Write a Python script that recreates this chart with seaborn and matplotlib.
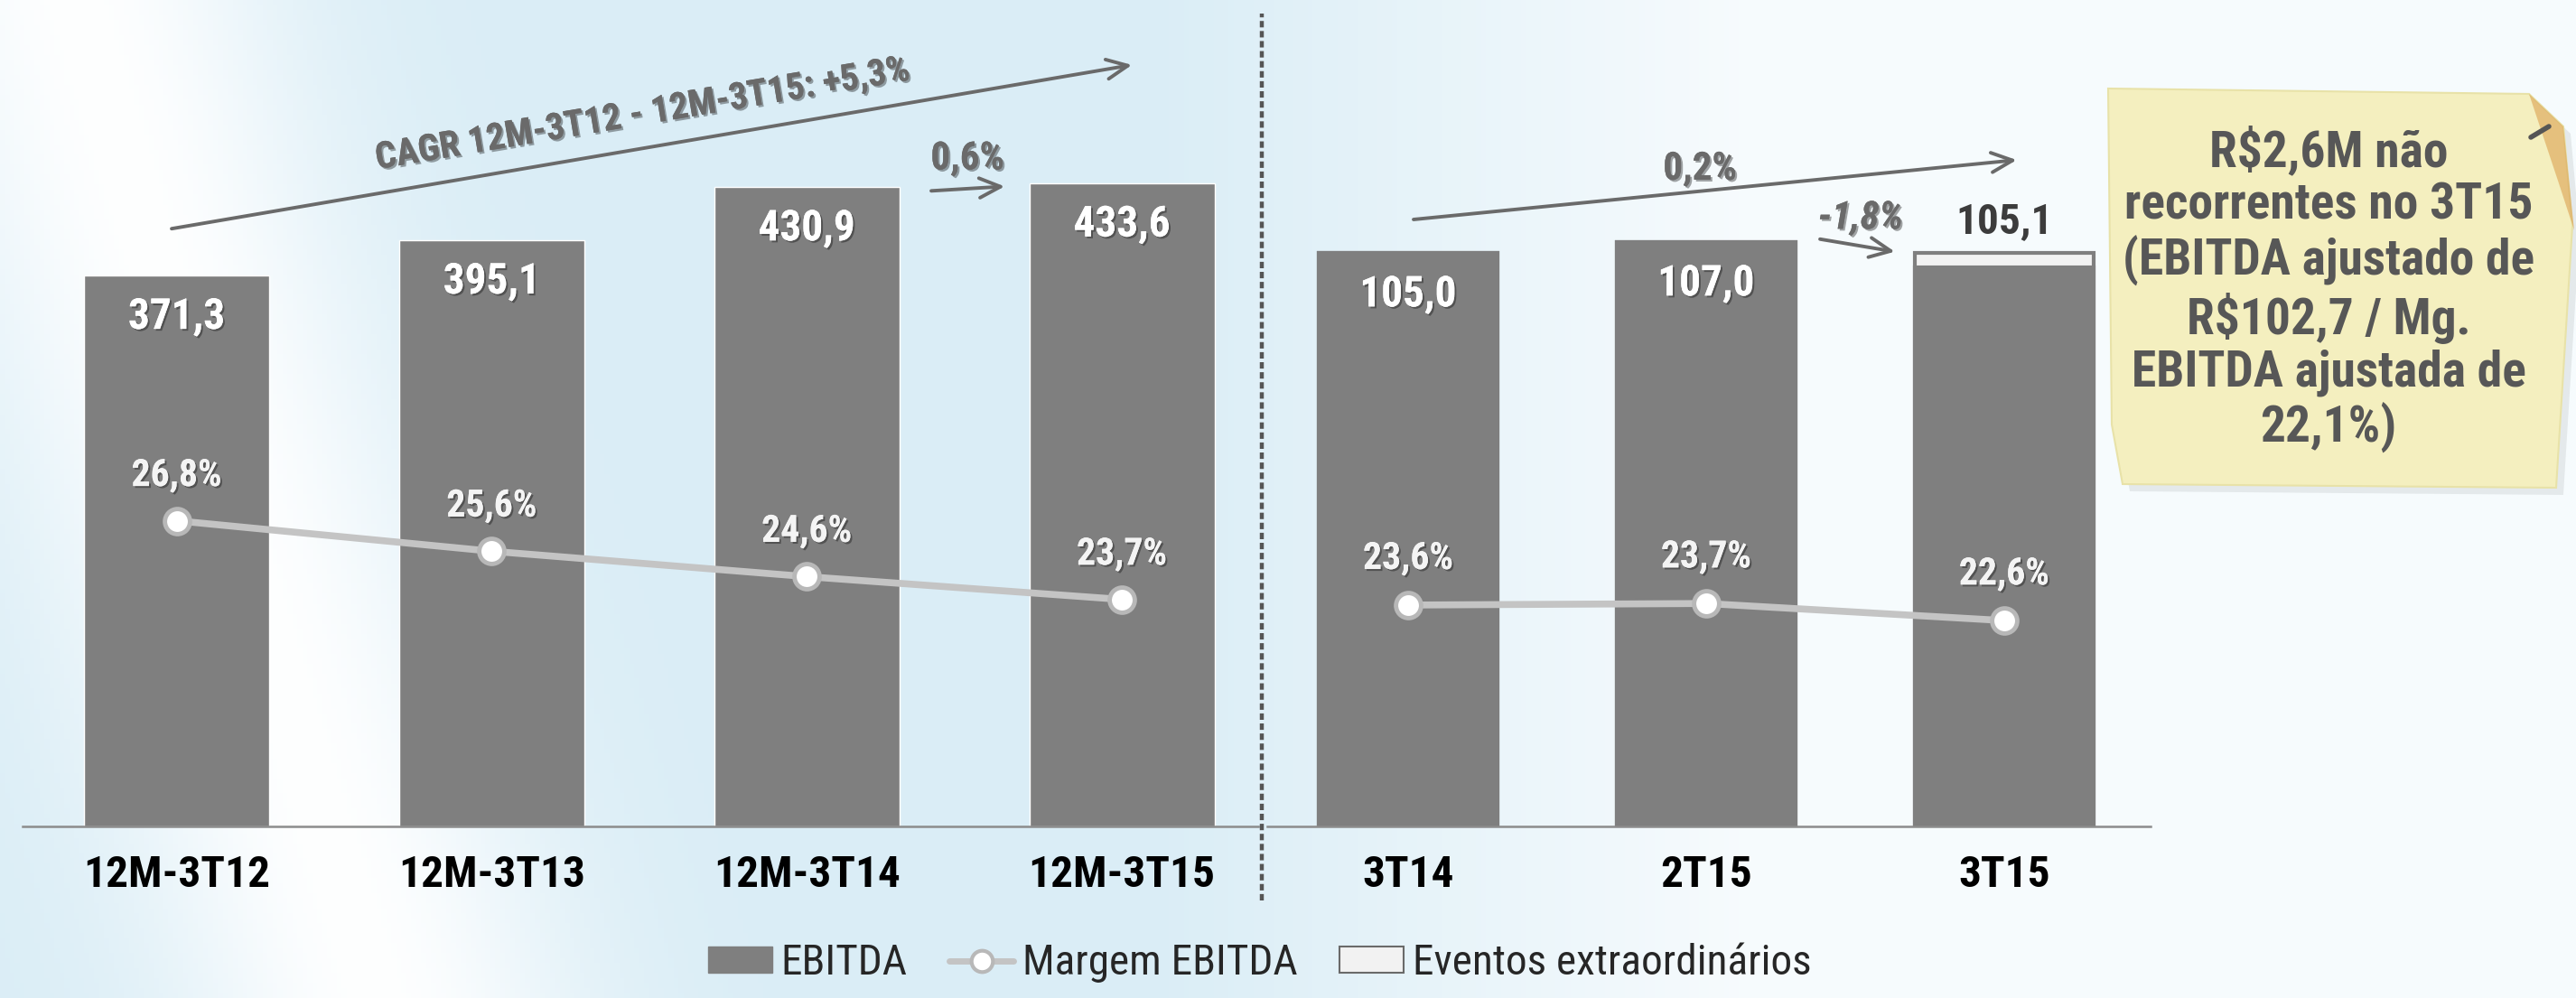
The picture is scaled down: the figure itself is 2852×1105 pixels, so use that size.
import numpy as np
import pandas as pd
import matplotlib
matplotlib.use("Agg")
import matplotlib.pyplot as plt
import seaborn as sns
from matplotlib.patches import Patch, Polygon
from matplotlib.lines import Line2D
import matplotlib.patheffects as pe
from matplotlib import font_manager as fm

# ---------------- data ----------------
cats_12m = ["12M-3T12", "12M-3T13", "12M-3T14", "12M-3T15"]
ebitda_12m = [371.3, 395.1, 430.9, 433.6]
margin_12m = [26.8, 25.6, 24.6, 23.7]

cats_q = ["3T14", "2T15", "3T15"]
ebitda_q = [105.0, 107.0, 105.1]
extra_q = [0.0, 0.0, 2.6]
margin_q = [23.6, 23.7, 22.6]

cagr_label = "CAGR 12M-3T12 - 12M-3T15: +5,3%"
var_12m_label = "0,6%"
var_yoy_label = "0,2%"
var_qoq_label = "-1,8%"
note_text = ("R$2,6M não\nrecorrentes no 3T15\n(EBITDA ajustado de\n"
             "R$102,7 / Mg.\nEBITDA ajustada de\n22,1%)")
legend_labels = ["EBITDA", "Margem EBITDA", "Eventos extraordinários"]


def fmt(v, pct=False):
    s = f"{v:.1f}".replace(".", ",")
    return s + "%" if pct else s


# ---------------- style ----------------
sns.set_theme(style="white")
available = {f.name for f in fm.fontManager.ttflist}
condensed_candidates = ["Liberation Sans Narrow", "Roboto Condensed", "Noto Sans Condensed",
                        "Open Sans Condensed", "DejaVu Sans Condensed"]
chosen = [c for c in condensed_candidates if c in available]
NARROW = chosen[0] if chosen else "Liberation Sans"
plt.rcParams['font.family'] = [NARROW, 'Liberation Sans', 'DejaVu Sans']
SC = 1.0 if NARROW in ("Liberation Sans Narrow", "Roboto Condensed", "Noto Sans Condensed",
                       "Open Sans Condensed") else 0.88

BAR = "#7f7f7f"
LIGHT = "#f2f2f2"
LINE = "#c4c4c4"
ANN = "#6a6a6a"

W, H = 2852, 1105
fig = plt.figure(figsize=(W / 100, H / 100), dpi=100)

# ---------------- background gradient ----------------
bg = fig.add_axes([0, 0, 1, 1], zorder=-10)
xs = np.linspace(0, 1568, 520)
ys = np.linspace(0, 608, 200)
XX, YY = np.meshgrid(xs, ys)
d = XX - 120 - 0.3 * (YY - 250)
b = (1 - np.exp(-(d / 125.0) ** 2))
fade = np.clip(1 - (XX - 700) / 450.0, 0.2, 1.0)
b = b * fade
white = np.array([0.995, 0.998, 1.0])
blue = np.array([0.855, 0.93, 0.965])
img = white[None, None, :] * (1 - b[..., None]) + blue[None, None, :] * b[..., None]
bg.imshow(img, extent=[0, 1, 0, 1], aspect="auto", origin="upper")
bg.set_axis_off()

shadow = [pe.withSimplePatchShadow(offset=(1.5, -1.5), shadow_rgbFace="black", alpha=0.35), pe.Normal()]

bottom = 0.1719
height = 0.81

# ---------------- left panel ----------------
axL = fig.add_axes([25 / W, bottom, 0.4797, height])
axL.set_facecolor("none")
dfL = pd.DataFrame({"cat": cats_12m, "ebitda": ebitda_12m, "margin": margin_12m})
sns.barplot(data=dfL, x="cat", y="ebitda", ax=axL, color=BAR, saturation=1, width=0.588)
axL.set_xlim(-0.489, 3.433)
axL.set_ylim(0, 545)
for i, v in enumerate(ebitda_12m):
    axL.annotate(fmt(v), (i, v), xytext=(0, -33), textcoords="offset points",
                 ha="center", va="center", fontsize=34 * SC, fontweight="bold",
                 color="white", path_effects=shadow)

axL2 = axL.twinx()
sns.lineplot(x=np.arange(len(margin_12m)), y=margin_12m, ax=axL2, color=LINE, linewidth=5.5,
             marker="o", markersize=20, markerfacecolor="white", markeredgecolor="#b8b8b8",
             markeredgewidth=3.5)
axL2.set_ylim(14.76, 46.6)
for i, m in enumerate(margin_12m):
    axL2.annotate(fmt(m, True), (i, m), xytext=(0, 36), textcoords="offset points",
                  ha="center", va="center", fontsize=30 * SC, fontweight="bold",
                  color="#f4f4f4", path_effects=shadow)

# annotations left
axL.annotate("", xy=(3.032, 513.4), xytext=(-0.016, 403),
             arrowprops=dict(arrowstyle="->,head_length=1.4,head_width=0.65", color=ANN,
                             lw=2.8, shrinkA=0, shrinkB=0), annotation_clip=False)
axL.text(1.481, 480, cagr_label, rotation=9.5, rotation_mode="anchor", ha="center",
         va="center", fontsize=29.5 * SC, fontweight="bold", color=ANN, path_effects=shadow)
axL.annotate("", xy=(2.628, 431.5), xytext=(2.395, 428.5),
             arrowprops=dict(arrowstyle="->,head_length=1.4,head_width=0.65", color=ANN,
                             lw=2.8, shrinkA=0, shrinkB=0), annotation_clip=False)
axL.text(2.51, 450, var_12m_label, ha="center", va="center", fontsize=31 * SC,
         fontweight="bold", color=ANN, path_effects=shadow)

# ---------------- right panel ----------------
axR = fig.add_axes([1403 / W, bottom, 0.343, height])
axR.set_facecolor("none")
base_q = [t - e for t, e in zip(ebitda_q, extra_q)]
dfR = pd.DataFrame({"cat": cats_q, "total": ebitda_q, "base": base_q, "margin": margin_q})
sns.barplot(data=dfR, x="cat", y="total", ax=axR, color=LIGHT, saturation=1, width=0.598,
            edgecolor=BAR, linewidth=3)
sns.barplot(data=dfR, x="cat", y="base", ax=axR, color=BAR, saturation=1, width=0.598,
            edgecolor=BAR, linewidth=3)
axR.set_xlim(-0.473, 2.492)
axR.set_ylim(0, 148.1)
for i, (v, e) in enumerate(zip(ebitda_q, extra_q)):
    if e > 0:
        axR.annotate(fmt(v), (i, v), xytext=(0, 25), textcoords="offset points",
                     ha="center", va="center", fontsize=34 * SC, fontweight="bold", color="#3c3c3c")
    else:
        axR.annotate(fmt(v), (i, v), xytext=(0, -33), textcoords="offset points",
                     ha="center", va="center", fontsize=34 * SC, fontweight="bold",
                     color="white", path_effects=shadow)

axR2 = axR.twinx()
sns.lineplot(x=np.arange(len(margin_q)), y=margin_q, ax=axR2, color=LINE, linewidth=5.5,
             marker="o", markersize=20, markerfacecolor="white", markeredgecolor="#b8b8b8",
             markeredgewidth=3.5)
axR2.set_ylim(9.35, 61.38)
for i, m in enumerate(margin_q):
    axR2.annotate(fmt(m, True), (i, m), xytext=(0, 37), textcoords="offset points",
                  ha="center", va="center", fontsize=30 * SC, fontweight="bold",
                  color="#f4f4f4", path_effects=shadow)

axR.annotate("", xy=(2.042, 122.1), xytext=(0.018, 111.2),
             arrowprops=dict(arrowstyle="->,head_length=1.4,head_width=0.65", color=ANN,
                             lw=2.8, shrinkA=0, shrinkB=0), annotation_clip=False)
axR.text(0.979, 120.4, var_yoy_label, ha="center", va="center", fontsize=31 * SC,
         fontweight="bold", color=ANN, path_effects=shadow)
axR.annotate("", xy=(1.633, 105.3), xytext=(1.382, 107.6),
             arrowprops=dict(arrowstyle="->,head_length=1.4,head_width=0.65", color=ANN,
                             lw=2.8, shrinkA=0, shrinkB=0), annotation_clip=False)
axR.text(1.518, 111.4, var_qoq_label, ha="center", va="center", fontsize=31 * SC,
         fontweight="bold", style="italic", color=ANN, path_effects=shadow)

# ---------------- axes styling ----------------
for ax in (axL, axR):
    for s in ("left", "top", "right"):
        ax.spines[s].set_visible(False)
    ax.spines["bottom"].set_color("#8c8c8c")
    ax.spines["bottom"].set_linewidth(1.8)
    ax.set_yticks([])
    ax.set_xlabel("")
    ax.set_ylabel("")
    ax.tick_params(axis="x", length=0, pad=22)
    for lab in ax.get_xticklabels():
        lab.set_fontsize(35.5 * SC)
        lab.set_fontweight("bold")
        lab.set_color("black")
for ax in (axL2, axR2):
    ax.set_axis_off()

# dashed separator
fig.add_artist(Line2D([0.4898, 0.4898], [0.0977, 0.986], transform=fig.transFigure,
                      color="#555555", lw=3.2, linestyle=(0, (1.6, 0.9))))

# ---------------- sticky note ----------------
def fpt(pts):
    return [(x / W, 1 - y / H) for x, y in pts]

note_pts = [(2334, 98), (2800, 104), (2838, 140), (2848, 250), (2830, 540),
            (2350, 536), (2338, 470)]
shadow_pts = [(x + 8, y + 8) for x, y in note_pts]
fig.add_artist(Polygon(fpt(shadow_pts), closed=True, transform=fig.transFigure,
                       facecolor="#000000", alpha=0.07, edgecolor="none"))
fig.add_artist(Polygon(fpt(note_pts), closed=True, transform=fig.transFigure,
                       facecolor="#f4efbf", edgecolor="#e8e2a8", lw=1.5))
fig.add_artist(Polygon(fpt([(2800, 104), (2838, 140), (2850, 255), (2832, 200), (2812, 140)]),
                       closed=True, transform=fig.transFigure, facecolor="#d99a48",
                       alpha=0.55, edgecolor="none"))
fig.add_artist(Line2D([2802 / W, 2822 / W], [1 - 152 / H, 1 - 140 / H], transform=fig.transFigure,
                      color="#555555", lw=4, solid_capstyle="round"))
fig.text(0.904, 0.7095, note_text, ha="center", va="center", fontsize=40 * SC, fontweight="bold",
         color="#575757", linespacing=1.15, parse_math=False)

# ---------------- legend ----------------
handles = [
    Patch(facecolor=BAR, edgecolor=BAR),
    Line2D([0], [0], color=LINE, lw=5, marker="o", markersize=17, markerfacecolor="white",
           markeredgecolor="#b8b8b8", markeredgewidth=3),
    Patch(facecolor=LIGHT, edgecolor="#6a6a6a", lw=1.5),
]
fig.legend(handles, legend_labels, loc="center", bbox_to_anchor=(0.489, 0.0353), ncol=3,
           frameon=False, fontsize=34 * SC, handlelength=1.5, handleheight=0.55,
           handletextpad=0.2, columnspacing=1.0)

fig.savefig("out.png", dpi=100)
